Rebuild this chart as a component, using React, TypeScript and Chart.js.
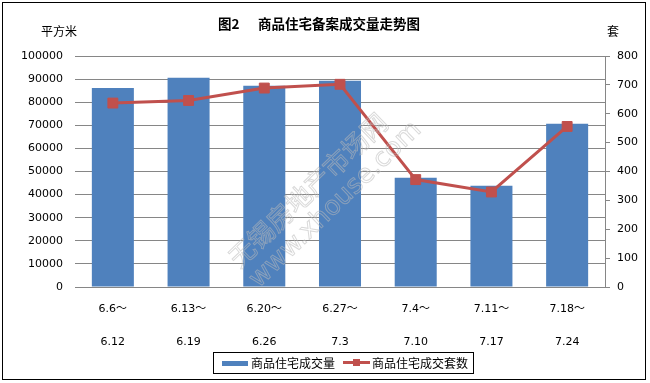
import React, { useEffect, useRef } from "react";
import { Chart, registerables } from "chart.js";

Chart.register(...registerables);

const weekStart = ["6.6～", "6.13～", "6.20～", "6.27～", "7.4～", "7.11～", "7.18～"];
const weekEnd = ["6.12", "6.19", "6.26", "7.3", "7.10", "7.17", "7.24"];
const areaSold = [86100, 90600, 87100, 89300, 47300, 43800, 70700];
const unitsSold = [637, 646, 689, 702, 372, 329, 556];

const areaLabel = "商品住宅成交量";
const unitsLabel = "商品住宅成交套数";
const titleLead = "图2";
const titleMain = "商品住宅备案成交量走势图";
const leftUnit = "平方米";
const rightUnit = "套";
const watermark1 = "无锡房地产市场网";
const watermark2 = "www.xhouse.com";

const leftMax = 100000;
const leftStep = 10000;
const rightMax = 800;
const rightStep = 100;

const BLUE = "#4F81BD";
const RED = "#C0504D";
const GRID = "#868686";
const NUM_FONT = "'DejaVu Sans', 'Noto Sans CJK SC', sans-serif";
const CJK_FONT = "'Noto Sans CJK SC', 'DejaVu Sans', sans-serif";

const decorPlugin = {
  id: "decor",
  beforeDraw(chart: any) {
    const ctx = chart.ctx;
    ctx.save();
    ctx.fillStyle = "#ffffff";
    ctx.fillRect(0, 0, chart.width, chart.height);
    ctx.restore();
  },
  afterDraw(chart: any) {
    const ctx = chart.ctx;
    ctx.save();
    // title
    ctx.fillStyle = "#000";
    ctx.textBaseline = "middle";
    ctx.textAlign = "left";
    ctx.font = `bold 13.5px ${CJK_FONT}`;
    ctx.fillText(titleLead, 218, 24);
    ctx.fillText(titleMain, 258, 24);
    // units
    ctx.font = `12px ${CJK_FONT}`;
    ctx.fillText(leftUnit, 41, 31);
    ctx.textAlign = "center";
    ctx.fillText(rightUnit, 613, 31);

    // legend
    ctx.strokeStyle = "#000";
    ctx.lineWidth = 1;
    ctx.strokeRect(213.5, 352.5, 260, 21);
    ctx.fillStyle = BLUE;
    ctx.fillRect(222, 361, 26, 5);
    ctx.fillStyle = "#000";
    ctx.textAlign = "left";
    ctx.font = `12px ${CJK_FONT}`;
    ctx.fillText(areaLabel, 251, 363);
    ctx.strokeStyle = RED;
    ctx.lineWidth = 3;
    ctx.beginPath();
    ctx.moveTo(343, 362.5);
    ctx.lineTo(370, 362.5);
    ctx.stroke();
    ctx.fillStyle = RED;
    ctx.fillRect(353, 359, 7, 7);
    ctx.fillStyle = "#000";
    ctx.fillText(unitsLabel, 372, 363);

    // watermark
    ctx.save();
    ctx.strokeStyle = "rgba(185,185,185,0.55)";
    ctx.lineWidth = 1;
    ctx.translate(233, 262);
    ctx.rotate(-Math.PI / 4.1);
    ctx.textAlign = "left";
    ctx.textBaseline = "middle";
    ctx.font = `26px ${CJK_FONT}`;
    ctx.strokeText(watermark1, 0, 0);
    ctx.font = `26px ${NUM_FONT}`;
    ctx.strokeText(watermark2, 0, 30);
    ctx.restore();

    // outer border
    ctx.strokeStyle = "#000";
    ctx.lineWidth = 1;
    ctx.strokeRect(2.5, 2.5, 643, 377);
    ctx.restore();
  },
};

export default function App() {
  const ref = useRef<HTMLCanvasElement | null>(null);

  useEffect(() => {
    if (!ref.current) return;
    const labels = weekStart.map((s, i) => [s, weekEnd[i]]);
    const chart = new Chart(ref.current, {
      data: {
        labels,
        datasets: [
          {
            type: "line",
            label: unitsLabel,
            data: unitsSold,
            yAxisID: "yR",
            borderColor: RED,
            backgroundColor: RED,
            borderWidth: 3,
            pointStyle: "rect",
            pointRadius: 7,
            pointBorderWidth: 1,
            pointBackgroundColor: RED,
            pointBorderColor: RED,
            tension: 0,
            order: 0,
          },
          {
            type: "bar",
            label: areaLabel,
            data: areaSold,
            yAxisID: "yL",
            backgroundColor: BLUE,
            borderWidth: 0,
            categoryPercentage: 1,
            barPercentage: 0.555,
            order: 1,
          },
        ],
      } as any,
      options: {
        responsive: false,
        animation: false,
        devicePixelRatio: 1,
        layout: { padding: { top: 56, left: 0, right: 0, bottom: 0 } },
        plugins: {
          legend: { display: false },
          title: { display: false },
          tooltip: { enabled: false },
        },
        scales: {
          x: {
            grid: { display: false },
            border: { display: false },
            ticks: {
              color: "#000",
              padding: -3,
              maxRotation: 0,
              autoSkip: false,
              font: { family: NUM_FONT, size: 11, lineHeight: 33.5 / 11 },
            },
            afterFit(scale: any) {
              scale.height = 96;
            },
          },
          yL: {
            position: "left",
            min: 0,
            max: leftMax,
            grid: { color: GRID, drawTicks: false, lineWidth: 1 },
            border: { display: false },
            ticks: {
              stepSize: leftStep,
              color: "#000",
              padding: 12,
              font: { family: NUM_FONT, size: 11 },
              callback: (v: any) => String(v),
            },
            afterFit(scale: any) {
              scale.width = 75;
            },
          },
          yR: {
            position: "right",
            min: 0,
            max: rightMax,
            grid: { drawOnChartArea: false, drawTicks: true, tickLength: 5, color: GRID },
            border: { display: true, color: GRID },
            ticks: {
              stepSize: rightStep,
              color: "#000",
              padding: 7,
              font: { family: NUM_FONT, size: 11 },
              callback: (v: any) => String(v),
            },
            afterFit(scale: any) {
              scale.width = 45;
            },
          },
        },
      } as any,
      plugins: [decorPlugin],
    });
    return () => chart.destroy();
  }, []);

  return (
    <div style={{ position: "absolute", left: 0, top: 0, width: 650, height: 383 }}>
      <canvas ref={ref} width={650} height={383} style={{ display: "block" }} />
    </div>
  );
}
